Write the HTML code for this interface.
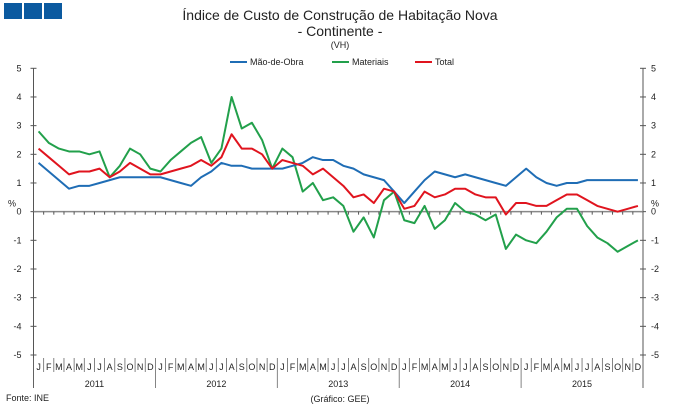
<!DOCTYPE html>
<html><head><meta charset="utf-8"><style>
body{margin:0;background:#fff;}
svg text{font-family:"Liberation Sans",sans-serif;fill:#222;}
</style></head><body>
<svg id="chart" width="679" height="410" viewBox="0 0 679 410" xmlns="http://www.w3.org/2000/svg">
<rect x="4" y="3" width="18" height="16" fill="#0b5aa0"/>
<rect x="24" y="3" width="18" height="16" fill="#0b5aa0"/>
<rect x="44" y="3" width="18" height="16" fill="#0b5aa0"/>
<text x="340" y="20" text-anchor="middle" font-size="14">Índice de Custo de Construção de Habitação Nova</text>
<text x="340" y="36" text-anchor="middle" font-size="14">- Continente -</text>
<text x="340" y="48" text-anchor="middle" font-size="9">(VH)</text>
<g>
<line x1="230" y1="62" x2="247" y2="62" stroke="#1f6db5" stroke-width="2"/>
<text x="250" y="65" font-size="9">Mão-de-Obra</text>
<line x1="332" y1="62" x2="349" y2="62" stroke="#22a04b" stroke-width="2"/>
<text x="352" y="65" font-size="9">Materiais</text>
<line x1="415" y1="62" x2="432" y2="62" stroke="#e0141e" stroke-width="2"/>
<text x="435" y="65" font-size="9">Total</text>
</g>
<g id="axes"></g>
<g id="series"></g>
<text x="6" y="401" font-size="9">Fonte: INE</text>
<text x="340" y="402" text-anchor="middle" font-size="9">(Gráfico: GEE)</text>
</svg>
<script>
const years = ["2011","2012","2013","2014","2015"];
const months = ["J","F","M","A","M","J","J","A","S","O","N","D"];
const yTicks = [5,4,3,2,1,0,-1,-2,-3,-4,-5];
const maoDeObra = [1.7,1.4,1.1,0.8,0.9,0.9,1.0,1.1,1.2,1.2,1.2,1.2,
 1.2,1.1,1.0,0.9,1.2,1.4,1.7,1.6,1.6,1.5,1.5,1.5,
 1.5,1.6,1.7,1.9,1.8,1.8,1.6,1.5,1.3,1.2,1.1,0.7,
 0.3,0.7,1.1,1.4,1.3,1.2,1.3,1.2,1.1,1.0,0.9,1.2,
 1.5,1.2,1.0,0.9,1.0,1.0,1.1,1.1,1.1,1.1,1.1,1.1];
const materiais = [2.8,2.4,2.2,2.1,2.1,2.0,2.1,1.2,1.6,2.2,2.0,1.5,
 1.4,1.8,2.1,2.4,2.6,1.7,2.2,4.0,2.9,3.1,2.5,1.5,
 2.2,1.9,0.7,1.0,0.4,0.5,0.2,-0.7,-0.2,-0.9,0.4,0.7,
 -0.3,-0.4,0.2,-0.6,-0.3,0.3,0.0,-0.1,-0.3,-0.1,-1.3,-0.8,
 -1.0,-1.1,-0.7,-0.2,0.1,0.1,-0.5,-0.9,-1.1,-1.4,-1.2,-1.0];
const total = [2.2,1.9,1.6,1.3,1.4,1.4,1.5,1.2,1.4,1.7,1.5,1.3,
 1.3,1.4,1.5,1.6,1.8,1.6,1.9,2.7,2.2,2.2,2.0,1.5,
 1.8,1.7,1.6,1.3,1.5,1.2,0.9,0.5,0.6,0.3,0.8,0.7,
 0.1,0.2,0.7,0.5,0.6,0.8,0.8,0.6,0.5,0.5,-0.1,0.3,
 0.3,0.2,0.2,0.4,0.6,0.6,0.4,0.2,0.1,0.0,0.1,0.2];

const NS="http://www.w3.org/2000/svg";
const L=33.5,R=643,T=68.3,B=355;
const n=years.length*months.length;
const bw=(R-L)/n;
const x=i=>L+bw*(i+0.5);
const y=v=>T+(5-v)*(B-T)/10;
const ax=document.getElementById('axes'), se=document.getElementById('series');
function mk(tag,attrs,parent){const e=document.createElementNS(NS,tag);for(const k in attrs)e.setAttribute(k,attrs[k]);parent.appendChild(e);return e;}

let e=mk('line',{x1:L,y1:T,x2:L,y2:388,stroke:'#555','stroke-width':1},ax);


e=mk('line',{x1:R,y1:T,x2:R,y2:388,stroke:'#555','stroke-width':1},ax);


yTicks.forEach(v=>{
  mk('line',{x1:L-3,y1:y(v),x2:L+3,y2:y(v),stroke:'#555'},ax);
  mk('line',{x1:R-3,y1:y(v),x2:R+3,y2:y(v),stroke:'#555'},ax);
  let t=mk('text',{x:L-12,y:y(v)+3,'font-size':9,'text-anchor':'end'},ax);t.textContent=v;
  
  
  t=mk('text',{x:R+8,y:y(v)+3,'font-size':9},ax);t.textContent=v;
  
  
});
let p=mk('text',{x:8,y:y(0)-5,'font-size':9},ax);p.textContent='%';


p=mk('text',{x:R+8,y:y(0)-5,'font-size':9},ax);p.textContent='%';


e=mk('line',{x1:L,y1:y(0),x2:R,y2:y(0),stroke:'#888','stroke-width':1.5},ax);


for(let i=0;i<=n;i++){
  mk('line',{x1:L+bw*i,y1:y(0),x2:L+bw*i,y2:y(0)+3,stroke:'#555'},ax);
  const yr=i%12===0;
  mk('line',{x1:L+bw*i,y1:358,x2:L+bw*i,y2:yr?388:372,stroke:'#666','stroke-width':0.8},ax);
}
for(let i=0;i<n;i++){
  const t=mk('text',{x:x(i),y:370,'font-size':9,'text-anchor':'middle'},ax);
  t.textContent=months[i%12];
  
  
}
years.forEach((yr,k)=>{
  const t=mk('text',{x:L+bw*(k*12+6),y:387,'font-size':9,'text-anchor':'middle'},ax);
  t.textContent=yr;
  
  
});
function line(data,color,name){
  const pl=mk('polyline',{points:data.map((v,i)=>x(i)+','+y(v)).join(' '),fill:'none',stroke:color,'stroke-width':2,'stroke-linejoin':'round'},se);
  
  
}
line(materiais,'#22a04b','series-materiais');
line(maoDeObra,'#1f6db5','series-mao-de-obra');
line(total,'#e0141e','series-total');
</script>
</body></html>
